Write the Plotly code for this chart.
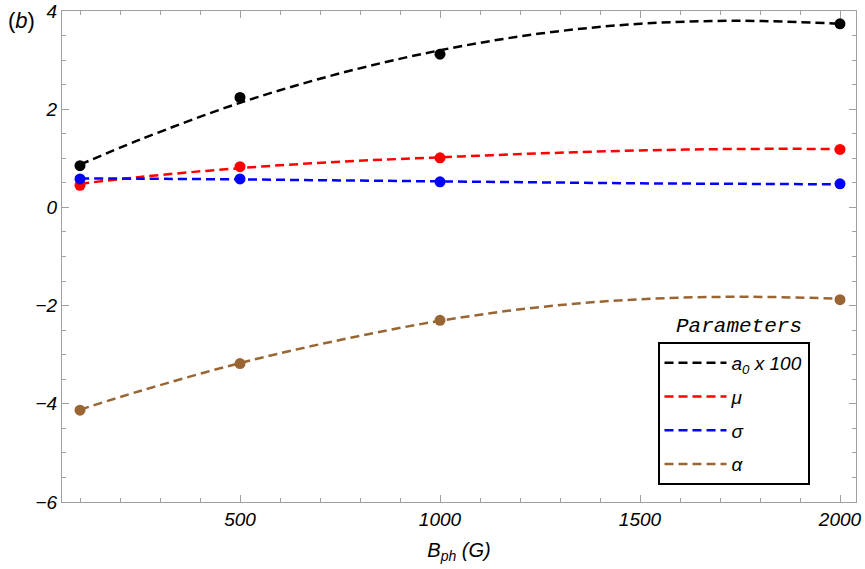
import plotly.graph_objects as go

# Measured parameter points
b_ph = [100, 500, 1000, 2000]
a0_pts = [0.85, 2.24, 3.12, 3.74]
mu_pts = [0.45, 0.83, 1.01, 1.18]
sigma_pts = [0.58, 0.58, 0.52, 0.48]
alpha_pts = [-4.13, -3.18, -2.30, -1.88]

# Fitted (dashed) curves
curve_x = [100, 250, 500, 750, 1000, 1250, 1500, 1750, 2000]
a0_fit = [0.87, 1.38, 2.13, 2.73, 3.20, 3.54, 3.74, 3.80, 3.74]
mu_fit = [0.48, 0.62, 0.80, 0.93, 1.02, 1.10, 1.16, 1.19, 1.19]
sigma_fit = [0.59, 0.585, 0.57, 0.55, 0.53, 0.51, 0.49, 0.48, 0.47]
alpha_fit = [-4.12, -3.74, -3.17, -2.70, -2.31, -2.03, -1.87, -1.82, -1.86]

names = ["<i>a<sub>0</sub> x 100</i>", "<i>μ</i>", "<i>σ</i>", "<i>α</i>"]
colors = ["#000000", "#ff0000", "#0000ff", "#996633"]
fits = [a0_fit, mu_fit, sigma_fit, alpha_fit]
pts = [a0_pts, mu_pts, sigma_pts, alpha_pts]

fig = go.Figure()
for i, (nm, col, fy, py) in enumerate(zip(names, colors, fits, pts)):
    fig.add_trace(go.Scatter(
        x=curve_x, y=fy, mode="lines", name=nm, legendgroup=f"g{i}",
        line=dict(color=col, width=2.5, dash="9px,5px", shape="spline"),
    ))
    fig.add_trace(go.Scatter(
        x=b_ph, y=py, mode="markers", showlegend=False, legendgroup=f"g{i}",
        marker=dict(color=col, size=11),
    ))

axis_col = "#a0a0a0"
fig.update_xaxes(
    range=[55, 2040], showgrid=False, zeroline=False, automargin=False,
    showline=True, linecolor=axis_col, linewidth=1, mirror="allticks",
    ticks="inside", ticklen=7, tickcolor=axis_col, tickwidth=1,
    tickvals=[500, 1000, 1500, 2000],
    minor=dict(dtick=100, tick0=0, ticks="inside", ticklen=4, tickcolor=axis_col),
    tickfont=dict(family="Liberation Sans", size=19, color="#000", style="italic"),
    title=dict(text="<i>B<sub>ph</sub></i> <i>(G)</i>",
               font=dict(family="Liberation Sans", size=20, color="#000"), standoff=14),
)
fig.update_yaxes(
    range=[-6, 4], showgrid=False, zeroline=False, automargin=False,
    showline=True, linecolor=axis_col, linewidth=1, mirror="allticks",
    ticks="inside", ticklen=7, tickcolor=axis_col, tickwidth=1,
    tickvals=[-6, -4, -2, 0, 2, 4],
    minor=dict(dtick=0.5, tick0=0, ticks="inside", ticklen=4, tickcolor=axis_col),
    tickfont=dict(family="Liberation Sans", size=19, color="#000", style="italic"),
)

fig.add_annotation(text="(<i>b</i>)", xref="paper", yref="paper", x=-0.070, y=0.98,
                   xanchor="left", yanchor="middle", showarrow=False,
                   font=dict(family="Liberation Sans", size=22, color="#000"))
fig.add_annotation(text="<i>Parameters</i>", xref="paper", yref="paper", x=0.853, y=0.358,
                   xanchor="center", yanchor="middle", showarrow=False,
                   font=dict(family="Liberation Mono", size=21, color="#000"))

fig.update_layout(
    width=865, height=569,
    margin=dict(l=62, r=9, t=11, b=67, autoexpand=False),
    plot_bgcolor="white", paper_bgcolor="white",
    legend=dict(x=0.750, y=0.326, xanchor="left", yanchor="top",
                bordercolor="#000", borderwidth=2, bgcolor="white",
                font=dict(family="Liberation Sans", size=19, color="#000"),
                itemwidth=62, tracegroupgap=6, traceorder="grouped"),
)

fig.write_html("out.html")
